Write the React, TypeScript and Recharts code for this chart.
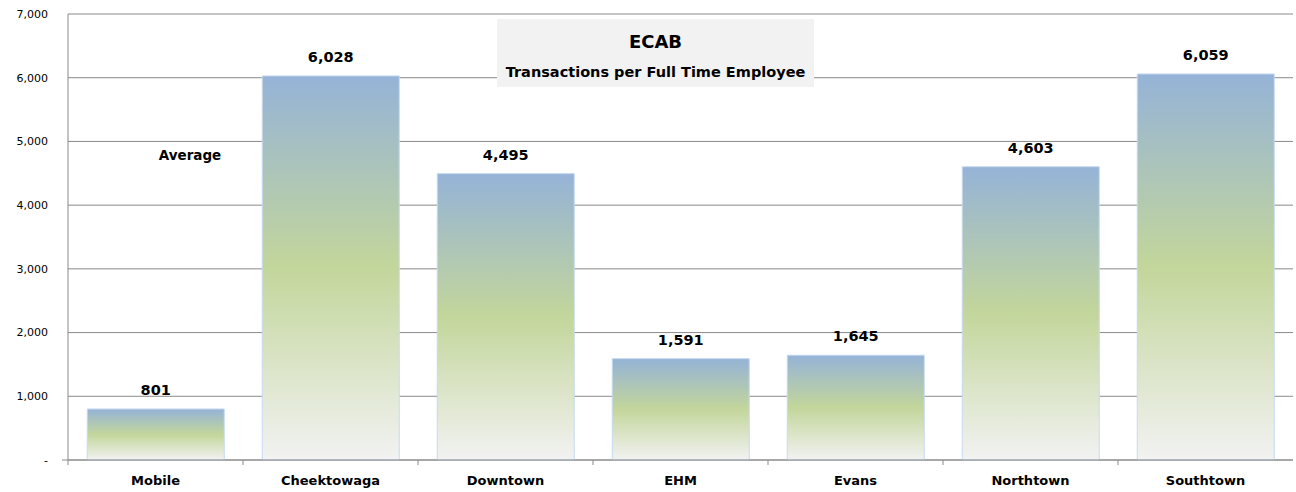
import React from 'react';
import { BarChart, Bar, XAxis, YAxis, CartesianGrid, LabelList } from 'recharts';

const branches = ['Mobile', 'Cheektowaga', 'Downtown', 'EHM', 'Evans', 'Northtown', 'Southtown'];
const transactionsPerFte = [801, 6028, 4495, 1591, 1645, 4603, 6059];
const yTicks = [0, 1000, 2000, 3000, 4000, 5000, 6000, 7000];

const data = branches.map((name, i) => ({ name, value: transactionsPerFte[i] }));

const W = 1296;
const H = 492;
const M = { top: 14, right: 3, left: 8, bottom: 0 };
const Y_AXIS_W = 60;
const X_AXIS_H = 32;
const AXIS_Y = H - M.bottom - X_AXIS_H;
const PLOT_W = W - M.left - M.right - Y_AXIS_W;
const BAND = PLOT_W / branches.length;
const FONT = '"DejaVu Sans", sans-serif';
const GRID = '#8a8a8a';

const fmt = (v: number) => (v === 0 ? '-' : v.toLocaleString('en-US'));

// excel-style ticks sit between categories, not under them
function XTick(props: any) {
  const { x, payload, index } = props;
  const left = x - BAND / 2;
  return (
    <g>
      <line x1={left} y1={AXIS_Y} x2={left} y2={AXIS_Y + 5} stroke={GRID} />
      {index === 0 && <line x1={left - 6} y1={AXIS_Y} x2={left} y2={AXIS_Y} stroke={GRID} />}
      <text x={x} y={AXIS_Y + 25} textAnchor="middle" fontFamily={FONT} fontSize={13} fontWeight="bold" fill="#000">
        {payload.value}
      </text>
    </g>
  );
}

export default function App() {
  return (
    <div style={{ position: 'absolute', left: 0, top: 0, width: W, height: H, background: '#fff' }}>
      <BarChart width={W} height={H} data={data} margin={M} barCategoryGap="11%">
        <defs>
          <linearGradient id="barFill" x1="0" y1="0" x2="0" y2="1">
            <stop offset="0%" stopColor="#95b3d7" />
            <stop offset="50%" stopColor="#c3d69b" />
            <stop offset="100%" stopColor="#f2f2f2" />
          </linearGradient>
        </defs>
        <CartesianGrid vertical={false} stroke={GRID} />
        <XAxis
          dataKey="name"
          height={X_AXIS_H}
          axisLine={{ stroke: GRID }}
          tickLine={false}
          interval={0}
          tick={<XTick />}
        />
        <YAxis
          width={Y_AXIS_W}
          domain={[0, 7000]}
          ticks={yTicks}
          tickFormatter={fmt}
          axisLine={{ stroke: GRID }}
          tickLine={false}
          tickSize={0}
          tickMargin={20}
          tick={{ fontFamily: FONT, fontSize: 11, fill: '#000' }}
        />
        <Bar dataKey="value" fill="url(#barFill)" stroke="#c6d9f1" strokeWidth={1} isAnimationActive={false}>
          <LabelList
            dataKey="value"
            position="top"
            offset={14}
            formatter={(v: any) => Number(v).toLocaleString('en-US')}
            style={{ fontFamily: FONT, fontSize: 14.5, fontWeight: 'bold', fill: '#000' }}
          />
        </Bar>
      </BarChart>
      <div
        style={{
          position: 'absolute',
          left: 497,
          top: 19,
          width: 317,
          height: 68,
          background: '#f2f2f2',
          fontFamily: FONT,
          fontWeight: 'bold',
          color: '#000',
          textAlign: 'center',
        }}
      >
        <div style={{ fontSize: 18, lineHeight: '22px', marginTop: 12 }}>ECAB</div>
        <div style={{ fontSize: 14.5, lineHeight: '18px', marginTop: 10 }}>Transactions per Full Time Employee</div>
      </div>
      <div
        style={{
          position: 'absolute',
          left: 130,
          top: 145,
          width: 120,
          textAlign: 'center',
          fontFamily: FONT,
          fontWeight: 'bold',
          fontSize: 13.5,
          lineHeight: '20px',
        }}
      >
        Average
      </div>
    </div>
  );
}
